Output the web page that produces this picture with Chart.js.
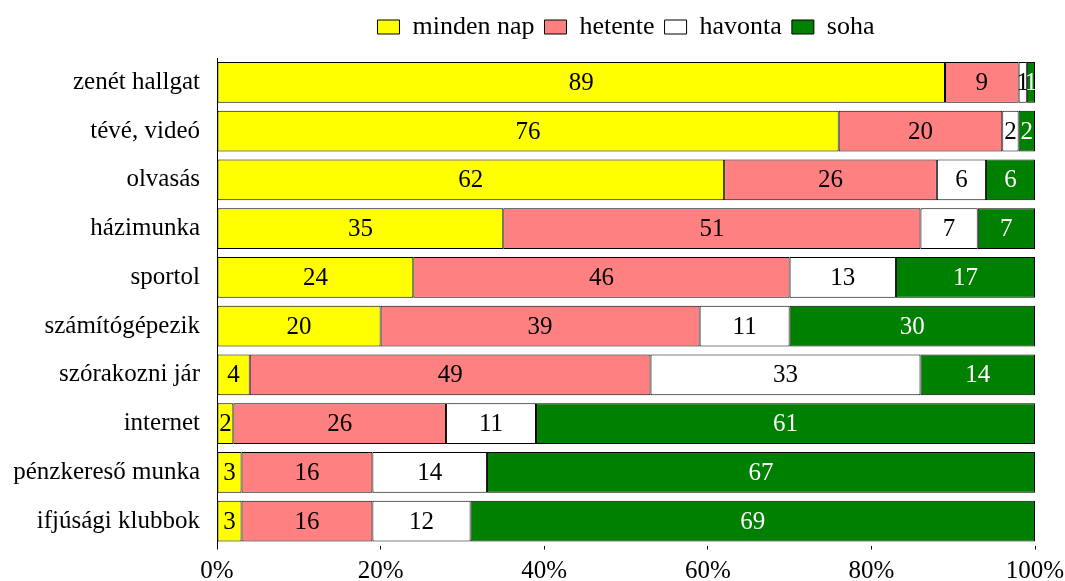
<!DOCTYPE html>
<html>
<head>
<meta charset="utf-8">
<script src="https://cdn.jsdelivr.net/npm/chart.js@4.4.0/dist/chart.umd.min.js"></script>
<style>
  html, body { margin: 0; padding: 0; background: #fff; }
  #wrap { width: 1065px; height: 581px; position: relative; }
</style>
</head>
<body>
<div id="wrap"><canvas id="chart"></canvas></div>
<script>
// Activities (top to bottom) and how often they are done, in %
const categories = ['zenét hallgat', 'tévé, videó', 'olvasás', 'házimunka', 'sportol',
  'számítógépezik', 'szórakozni jár', 'internet', 'pénzkereső munka', 'ifjúsági klubbok'];
const seriesNames = ['minden nap', 'hetente', 'havonta', 'soha'];
const mindenNap = [89, 76, 62, 35, 24, 20, 4, 2, 3, 3];
const hetente = [9, 20, 26, 51, 46, 39, 49, 26, 16, 16];
const havonta = [1, 2, 6, 7, 13, 11, 33, 11, 14, 12];
const soha = [1, 2, 6, 7, 17, 30, 14, 61, 67, 69];
const xTicks = [0, 20, 40, 60, 80, 100];

const FONT = "'Liberation Serif', 'Times New Roman', serif";
const FS = 25;
const colors = ['#ffff00', '#ff8080', '#ffffff', '#008000'];
const labelColors = ['#000', '#000', '#000', '#fff'];

// Extra room under the legend, so the plot starts lower
const legendGap = {
  id: 'legendGap',
  beforeLayout(chart) {
    const lg = chart.legend;
    if (lg && !lg._gapPatched) {
      const fit = lg.fit;
      lg.fit = function () {
        fit.call(this);
        this.height += 8;
      };
      lg._gapPatched = true;
    }
  }
};

// Draw the value in the middle of each segment
const valueLabels = {
  id: 'valueLabels',
  afterDatasetsDraw(chart) {
    const ctx = chart.ctx;
    ctx.save();
    ctx.font = FS + 'px ' + FONT;
    ctx.textAlign = 'center';
    ctx.textBaseline = 'middle';
    chart.data.datasets.forEach((ds, i) => {
      const meta = chart.getDatasetMeta(i);
      meta.data.forEach((bar, j) => {
        const cx = (bar.x + bar.base) / 2;
        ctx.fillStyle = labelColors[i];
        ctx.fillText(String(ds.data[j]), cx, bar.y + 1);
      });
    });
    ctx.restore();
  }
};

const series = [mindenNap, hetente, havonta, soha];

new Chart(document.getElementById('chart'), {
  type: 'bar',
  data: {
    labels: categories,
    datasets: series.map((d, i) => ({
      label: seriesNames[i],
      data: d,
      backgroundColor: colors[i],
      borderColor: '#000',
      borderWidth: 1,
      borderSkipped: false,
      barPercentage: 0.84,
      categoryPercentage: 1
    }))
  },
  options: {
    indexAxis: 'y',
    responsive: true,
    maintainAspectRatio: false,
    animation: false,
    devicePixelRatio: 1,
    layout: {
      padding: { top: 4, right: 30, bottom: 0, left: 0 }
    },
    plugins: {
      legend: {
        display: true,
        position: 'top',
        fullSize: false,
        labels: {
          color: '#000',
          font: { family: FONT, size: 26 },
          boxWidth: 22,
          boxHeight: 14,
          padding: 10
        }
      },
      tooltip: { enabled: false }
    },
    scales: {
      x: {
        stacked: true,
        min: 0,
        max: 100,
        afterBuildTicks: (scale) => {
          scale.ticks = xTicks.map(v => ({ value: v }));
        },
        afterFit: (scale) => {
          scale.height = 35.5;
          scale.paddingLeft = 0;
          scale.paddingRight = 0;
        },
        border: { display: false },
        grid: {
          drawOnChartArea: false,
          drawTicks: true,
          tickLength: 4,
          color: '#000'
        },
        ticks: {
          color: '#000',
          font: { family: FONT, size: FS },
          padding: 7,
          maxRotation: 0,
          callback: (v) => v + '%'
        }
      },
      y: {
        stacked: true,
        afterFit: (scale) => { scale.width = 217; },
        border: { display: true, color: '#000', width: 1 },
        grid: { display: false, drawTicks: false },
        ticks: {
          color: '#000',
          font: { family: FONT, size: FS },
          padding: 17
        }
      }
    }
  },
  plugins: [legendGap, valueLabels]
});
</script>
</body>
</html>
